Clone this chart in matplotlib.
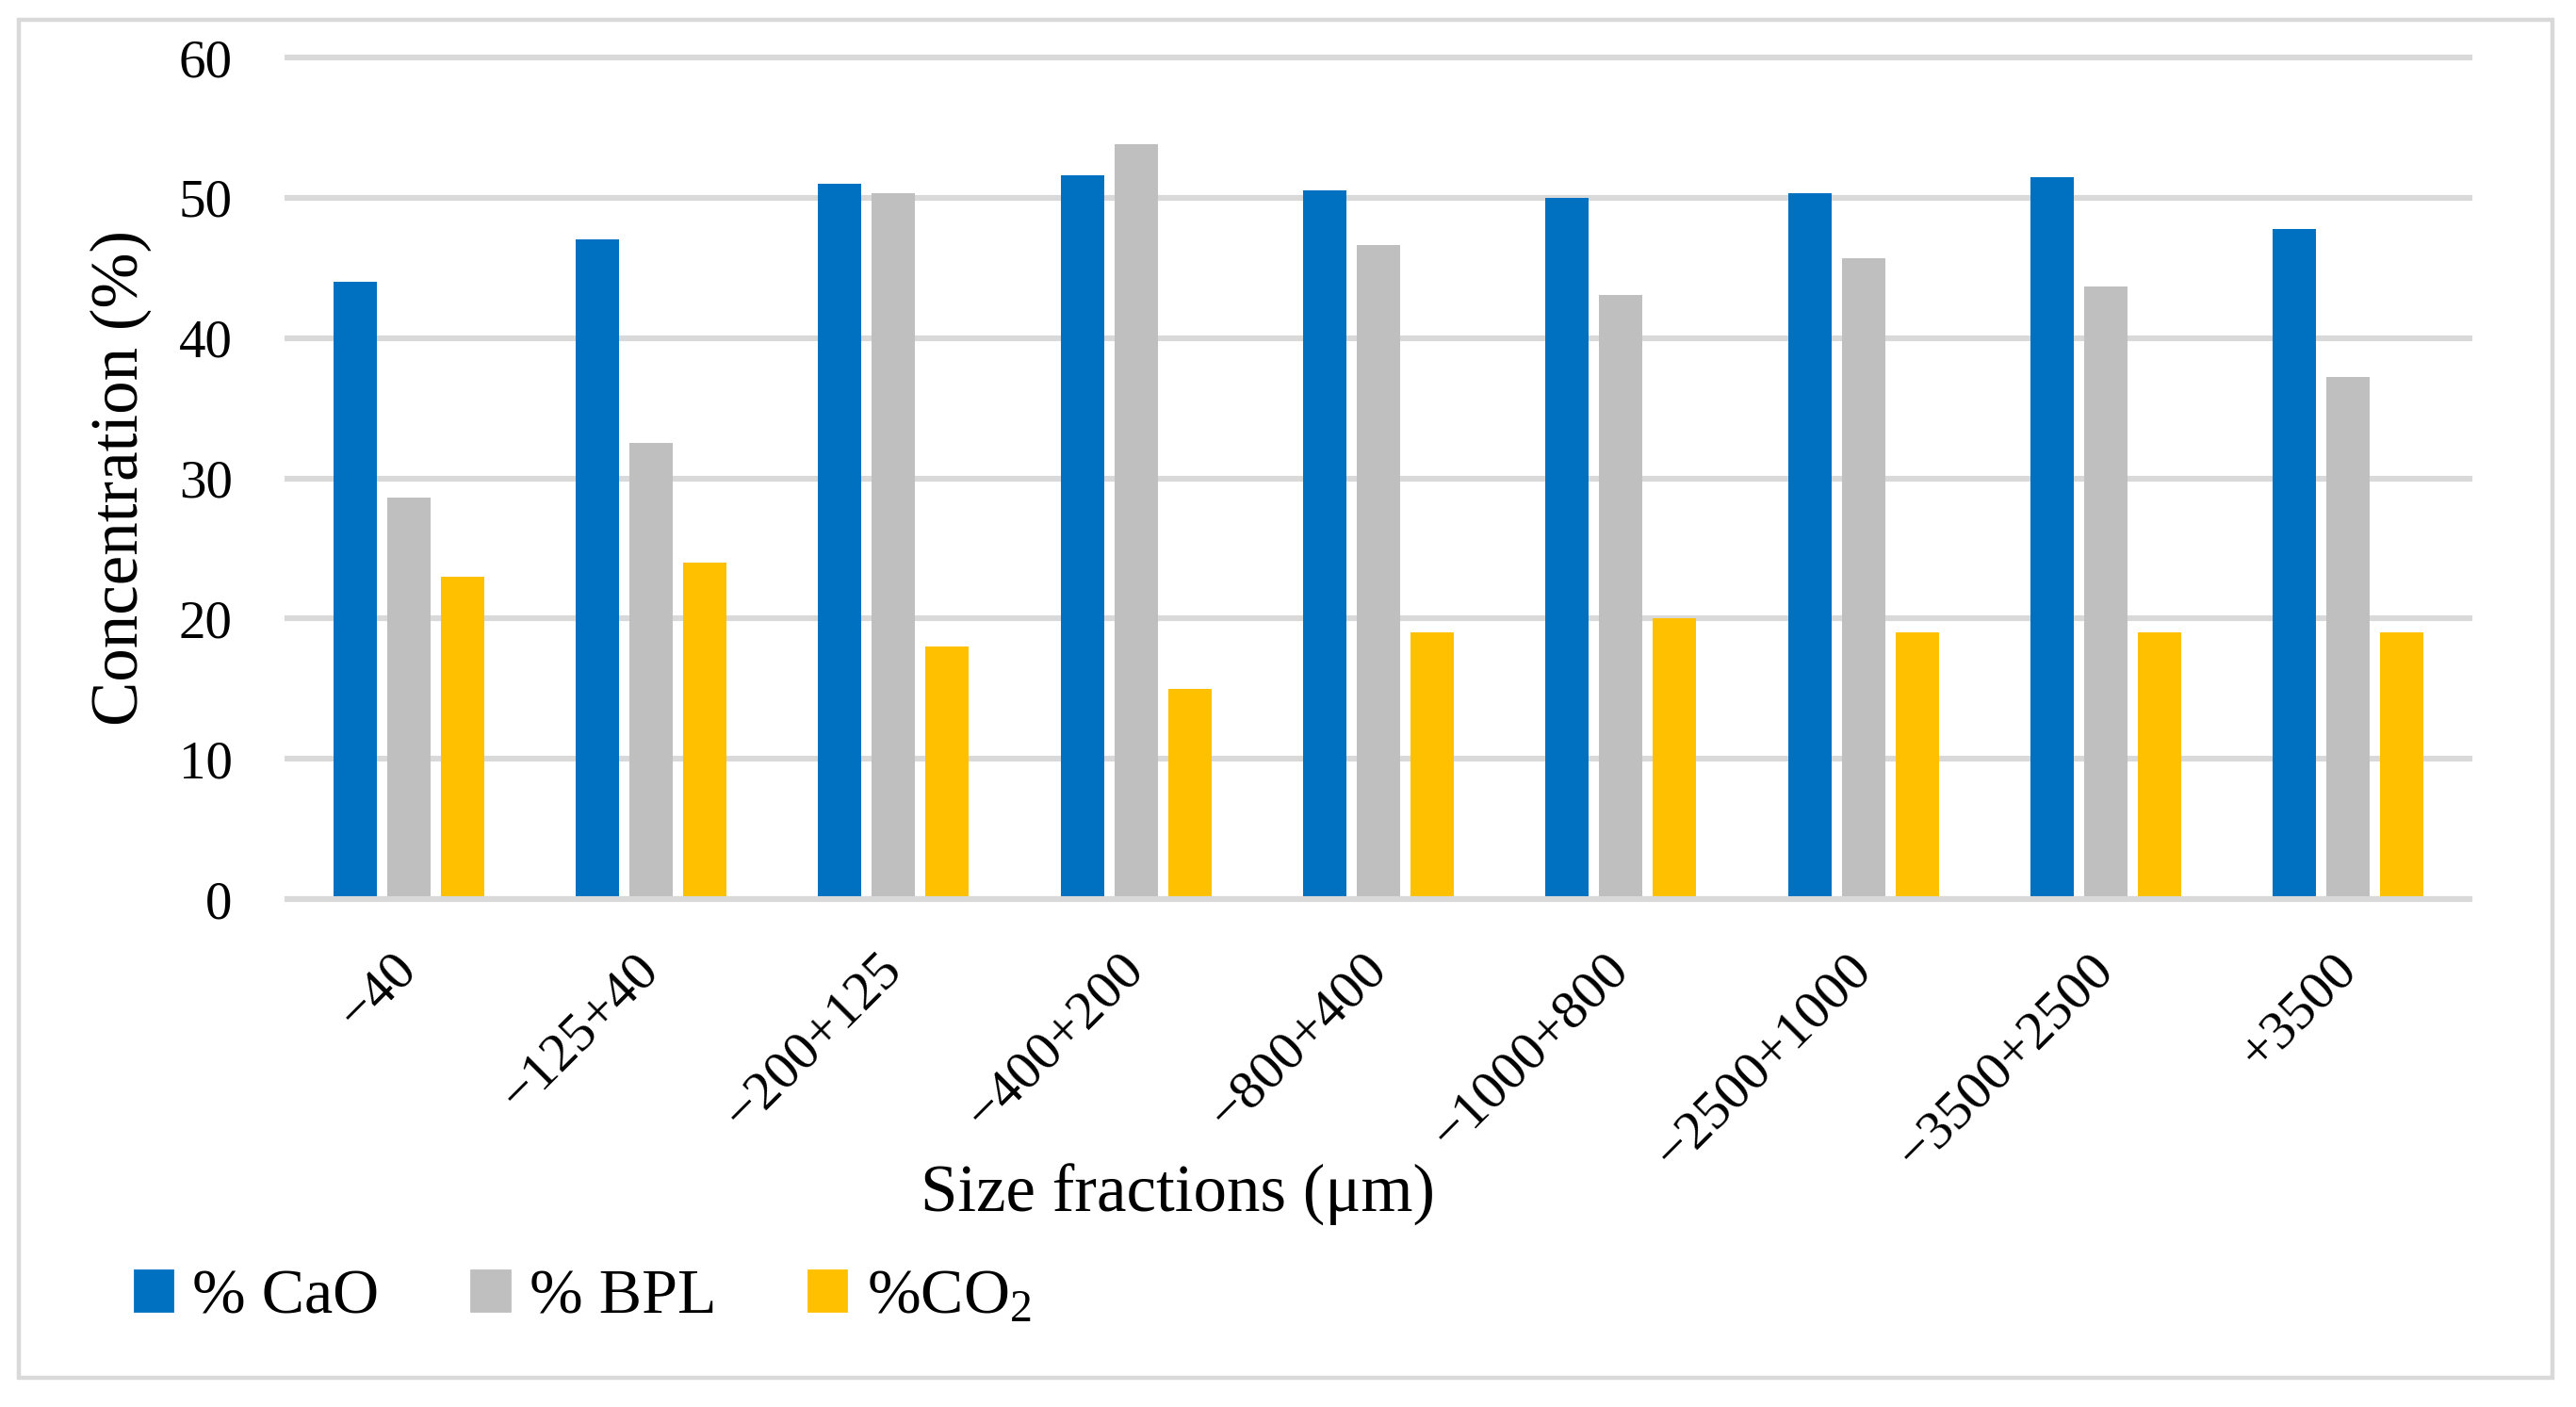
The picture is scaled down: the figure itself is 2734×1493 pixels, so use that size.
import matplotlib
matplotlib.use("Agg")
import matplotlib.pyplot as plt
import matplotlib.patches as mpatches
import numpy as np

plt.rcParams['font.family'] = ['Liberation Serif', 'DejaVu Serif']
plt.rcParams['mathtext.fontset'] = 'custom'
plt.rcParams['mathtext.rm'] = 'Liberation Serif'
plt.rcParams['mathtext.it'] = 'Liberation Serif:italic'

# data
fractions = ['\u221240', '\u2212125+40', '\u2212200+125', '\u2212400+200', '\u2212800+400',
             '\u22121000+800', '\u22122500+1000', '\u22123500+2500', '+3500']
cao = [44.0, 47.0, 51.0, 51.6, 50.5, 50.0, 50.3, 51.5, 47.8]
bpl = [28.6, 32.5, 50.3, 53.8, 46.6, 43.1, 45.7, 43.7, 37.2]
co2 = [23.0, 24.0, 18.0, 15.0, 19.0, 20.0, 19.0, 19.0, 19.0]

series_names = ['% CaO', '% BPL', '%CO$_2$']
colors = ['#0070C0', '#BFBFBF', '#FFC000']

W, H = 2734, 1493
fig = plt.figure(figsize=(W / 200, H / 200), dpi=200)
ax = fig.add_axes([305 / W, 1 - 954 / H, (2621 - 305) / W, (954 - 61) / H])

x = np.arange(len(fractions))
width = 0.179
step = 0.222
for i, (vals, c) in enumerate(zip([cao, bpl, co2], colors)):
    ax.bar(x + (i - 1) * step, vals, width, color=c, zorder=2)

ax.set_xlim(-0.5, len(fractions) - 0.5)
ax.set_ylim(0, 60)
ax.set_yticks(range(0, 61, 10))
ax.yaxis.grid(True, color='#d9d9d9', linewidth=2.2, zorder=0)
ax.set_axisbelow(True)
for gl in ax.get_ygridlines():
    gl.set_clip_on(False)
# baseline over the bars
ax.axhline(0, color='#d9d9d9', linewidth=2.2, zorder=3, clip_on=False)

for s in ax.spines.values():
    s.set_visible(False)
ax.tick_params(axis='both', length=0)
ax.tick_params(axis='y', pad=21, labelsize=20.5)
ax.set_xticks(x)
ax.set_xticklabels(fractions, rotation=45, ha='right', va='center',
                   rotation_mode='anchor', fontsize=21)
ax.tick_params(axis='x', pad=24)

fig.text(1250 / W, 1 - 1286 / H, 'Size fractions (\u03bcm)', ha='center', va='baseline',
         fontsize=25.5)
fig.text(128 / W, 1 - 507 / H, 'Concentration (%)', ha='center', va='center',
         rotation=90, fontsize=25.5)

handles = [mpatches.Patch(color=c, label=n) for c, n in zip(colors, series_names)]
fig.legend(handles=handles, loc='center left', bbox_to_anchor=(143 / W, 1 - 1377 / H),
           ncol=3, frameon=False, fontsize=24.5, handlelength=0.59, handleheight=0.6,
           handletextpad=0.31, columnspacing=1.44, borderaxespad=0, borderpad=0)

fig.patches.append(mpatches.Rectangle((20 / W, 1 - 1462 / H), (2709 - 20) / W, (1462 - 21) / H,
                                      transform=fig.transFigure, fill=False,
                                      edgecolor='#d9d9d9', linewidth=1.6))

fig.savefig('out.png', dpi=200, facecolor='white')
